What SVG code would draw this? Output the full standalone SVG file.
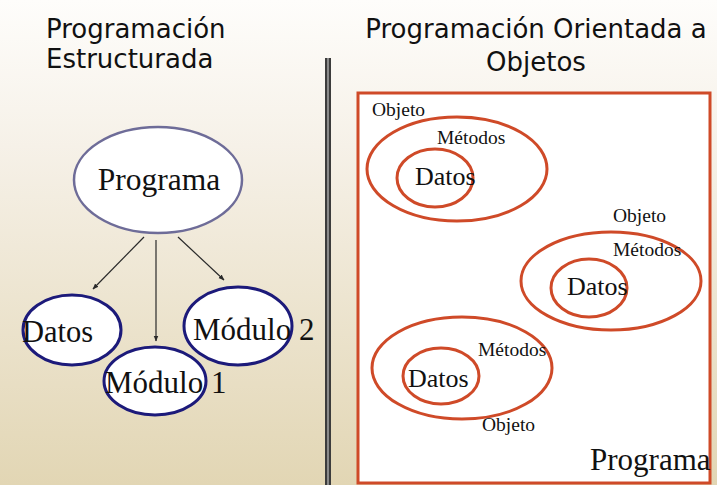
<svg xmlns="http://www.w3.org/2000/svg" width="717" height="485" viewBox="0 0 717 485">
<defs>
<linearGradient id="bg" x1="0" y1="0" x2="0" y2="1">
<stop offset="0" stop-color="#fefdfb"/>
<stop offset="0.3" stop-color="#f6f1e8"/>
<stop offset="1" stop-color="#e2d6b4"/>
</linearGradient>
<marker id="ah" viewBox="0 0 10 10" refX="9" refY="5" markerWidth="5" markerHeight="5" orient="auto">
<path d="M0,1 L10,5 L0,9 z" fill="#2a2a2a"/>
</marker>
<style>
.title{font-family:"DejaVu Sans",Verdana,sans-serif;font-size:26px;fill:#111}
.serif{font-family:"Liberation Serif","Times New Roman",serif;fill:#111}
.sn{fill:#fff;stroke:#1c1a7a;stroke-width:3}
.pn{fill:#fff;stroke:#6e6c98;stroke-width:2.5}
.ob{fill:none;stroke:#cf4a28;stroke-width:3}
.conn{stroke:#2a2a2a;stroke-width:1.2;fill:none;marker-end:url(#ah)}
</style>
</defs>
<rect width="717" height="485" fill="url(#bg)"/>
<g id="divider">
<rect x="325" y="58" width="6" height="427" fill="#8a8a8a"/>
<line x1="326" y1="58" x2="326" y2="485" stroke="#222" stroke-width="1.5"/>
<line x1="330" y1="58" x2="330" y2="485" stroke="#222" stroke-width="1.5"/>
</g>
<g id="title-left">
<text class="title" x="46" y="38">Programación</text>
<text class="title" x="46" y="68">Estructurada</text>
</g>
<g id="title-right">
<text class="title" x="536" y="38" text-anchor="middle">Programación Orientada a</text>
<text class="title" x="536" y="71" text-anchor="middle">Objetos</text>
</g>
<g id="connectors">
<line class="conn" x1="144" y1="237" x2="93" y2="289"/>
<line class="conn" x1="156" y1="240" x2="156" y2="341"/>
<line class="conn" x1="178" y1="237" x2="224" y2="280"/>
</g>
<g id="programa">
<ellipse class="pn" cx="158" cy="180" rx="84" ry="53"/>
<text class="serif" x="159" y="190" font-size="31.5" text-anchor="middle">Programa</text>
</g>
<g id="datos">
<ellipse class="sn" cx="72" cy="330" rx="49" ry="35"/>
<text class="serif" x="22" y="342" font-size="30.5">Datos</text>
</g>
<g id="modulo1">
<ellipse class="sn" cx="155" cy="381" rx="51" ry="34"/>
<text class="serif" x="105" y="393" font-size="31">Módulo 1</text>
</g>
<g id="modulo2">
<ellipse class="sn" cx="238" cy="326" rx="54" ry="39"/>
<text class="serif" x="193" y="340" font-size="31">Módulo 2</text>
</g>
<g id="programa-box">
<rect x="358" y="93" width="352" height="390" fill="#fff" stroke="#cf4a28" stroke-width="3"/>
<text class="serif" x="590" y="470" font-size="31">Programa</text>
</g>
<g id="objeto1">
<ellipse class="ob" cx="457" cy="169" rx="90" ry="52"/>
<ellipse class="ob" cx="435" cy="178" rx="38" ry="29"/>
<text class="serif" x="372" y="116" font-size="19.5">Objeto</text>
<text class="serif" x="437" y="144" font-size="19.5">Métodos</text>
<text class="serif" x="415" y="185" font-size="26">Datos</text>
</g>
<g id="objeto2">
<ellipse class="ob" cx="611" cy="281" rx="90" ry="49"/>
<ellipse class="ob" cx="589" cy="288" rx="38" ry="29"/>
<text class="serif" x="613" y="222" font-size="19.5">Objeto</text>
<text class="serif" x="613" y="256" font-size="19.5">Métodos</text>
<text class="serif" x="567" y="295" font-size="26">Datos</text>
</g>
<g id="objeto3">
<ellipse class="ob" cx="462" cy="368" rx="90" ry="51"/>
<ellipse class="ob" cx="441" cy="376" rx="38" ry="28"/>
<text class="serif" x="478" y="356" font-size="19.5">Métodos</text>
<text class="serif" x="408" y="387" font-size="26">Datos</text>
<text class="serif" x="482" y="431" font-size="19.5">Objeto</text>
</g>
</svg>
